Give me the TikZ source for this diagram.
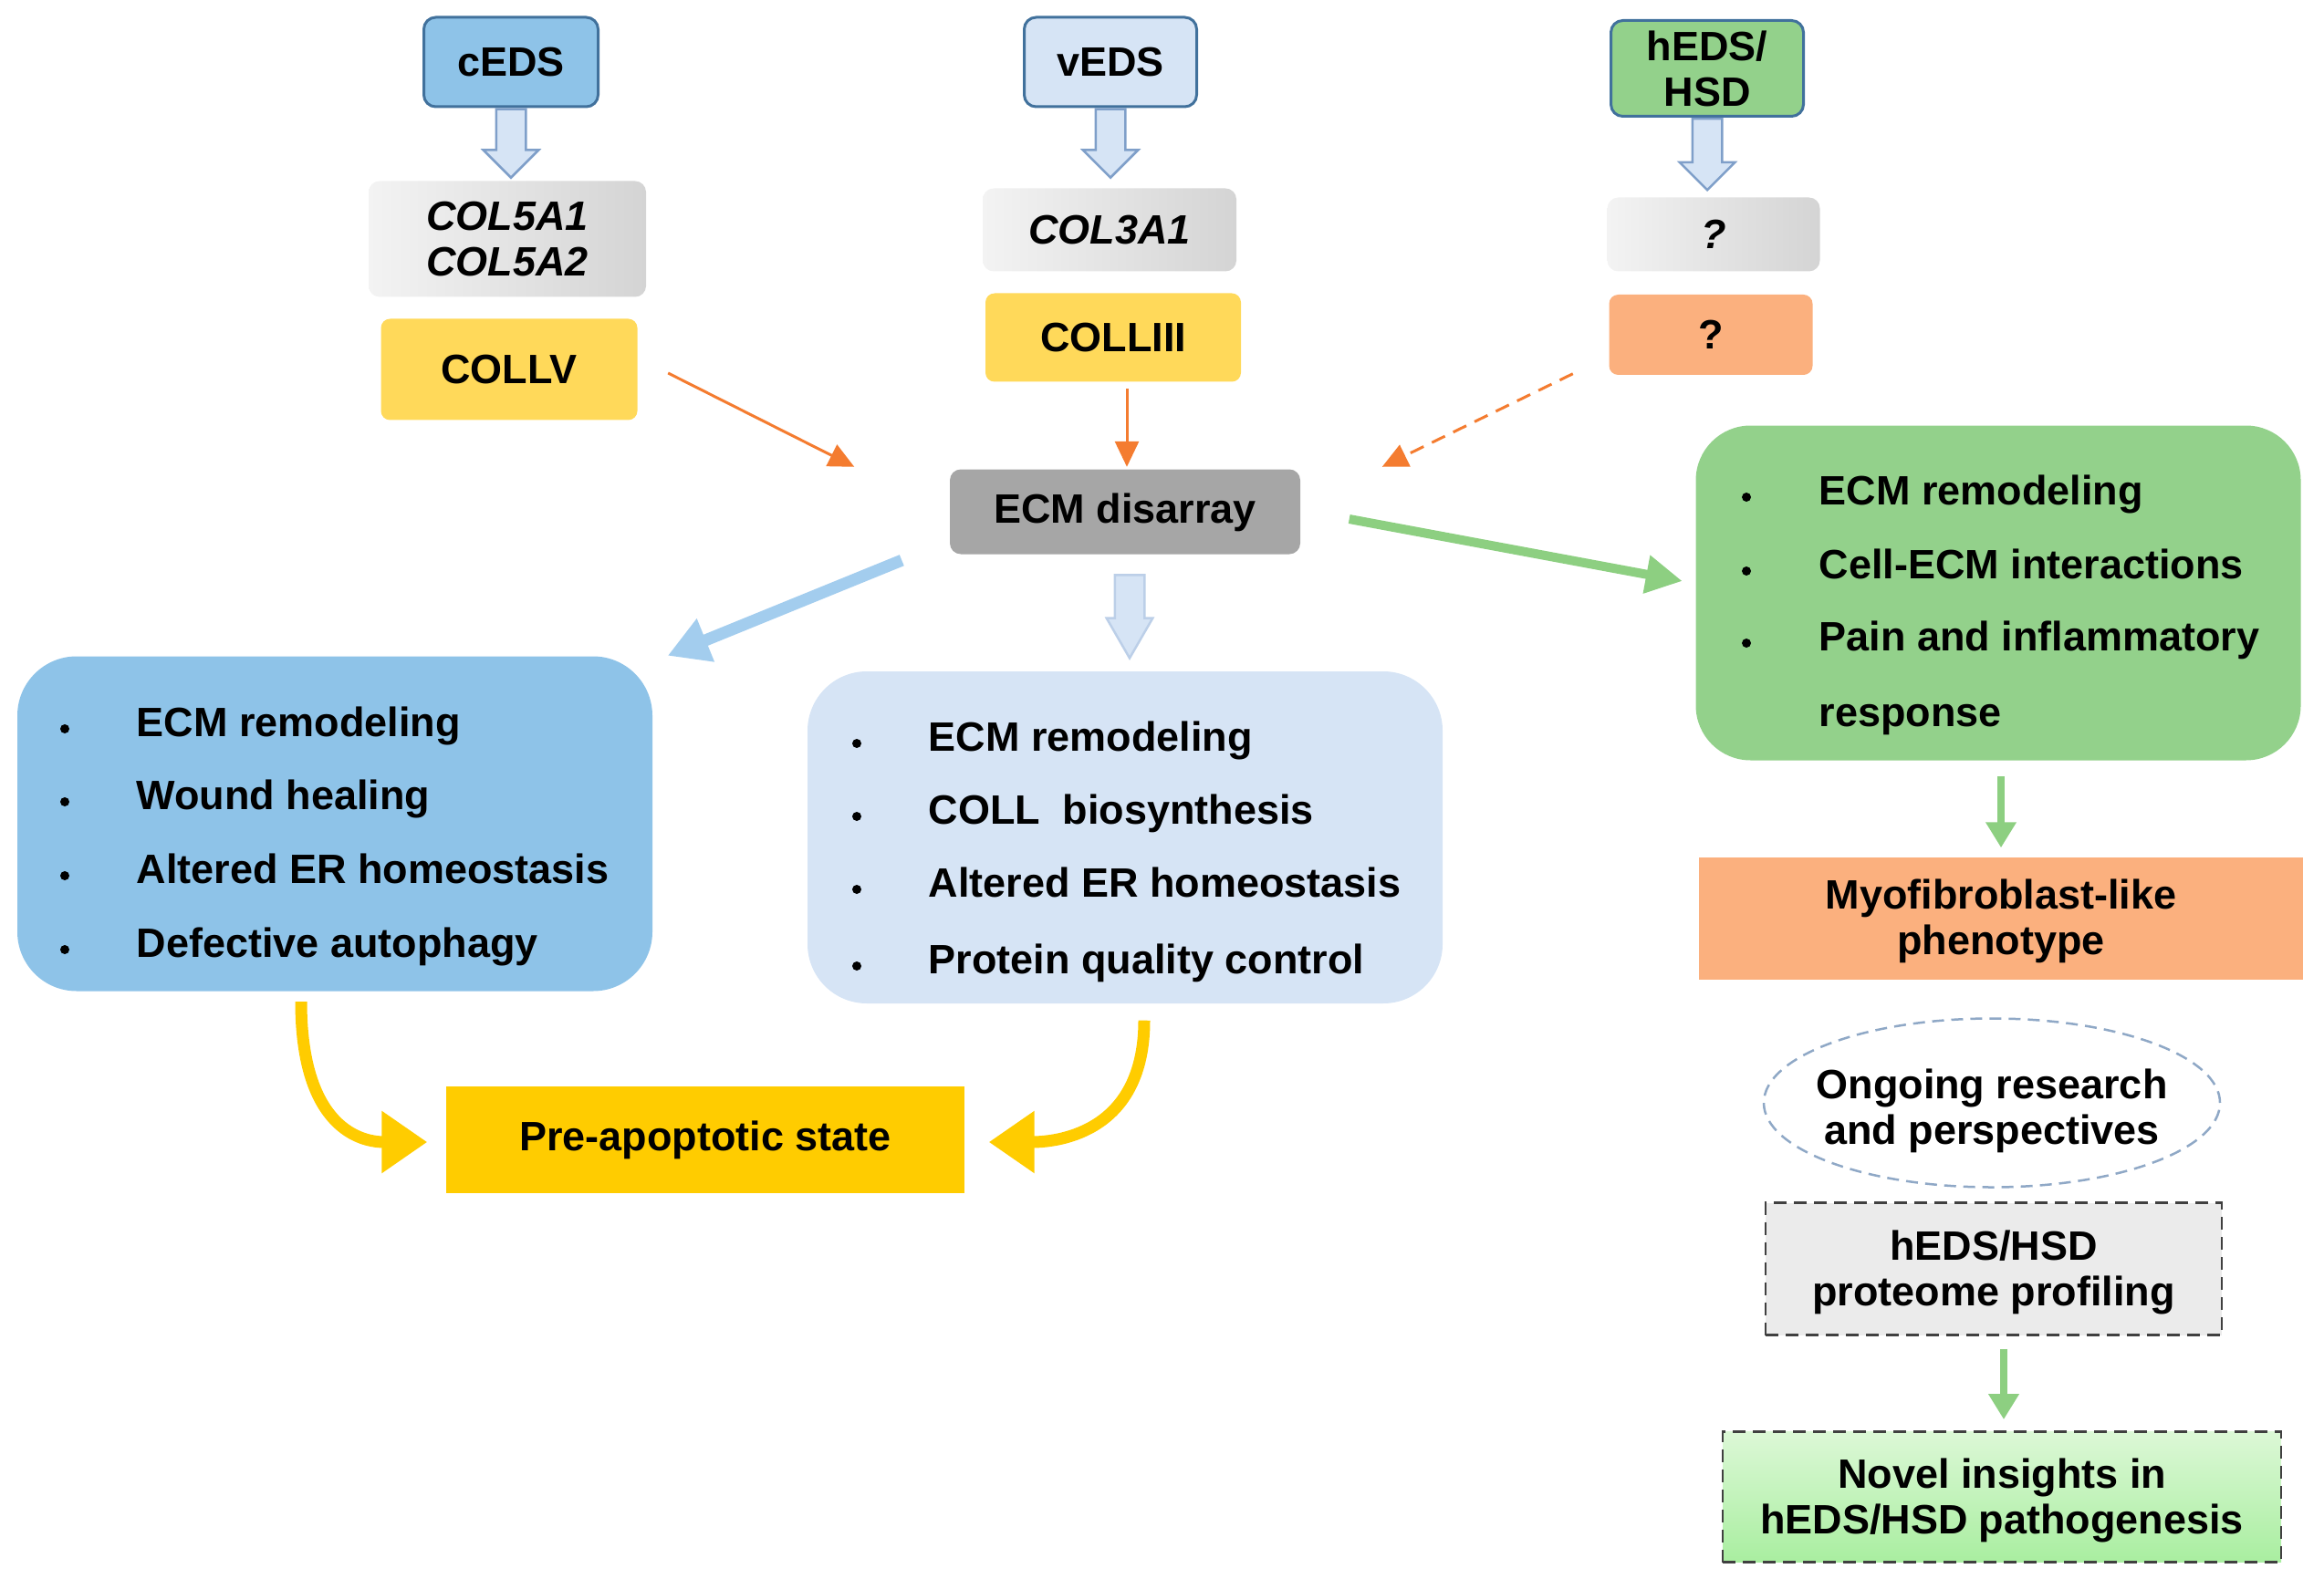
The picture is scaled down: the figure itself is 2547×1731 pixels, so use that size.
\documentclass[tikz,border=0pt]{standalone}
\usepackage{fontspec}
\setmainfont{Liberation Sans}
\usetikzlibrary{shapes.geometric,shapes.arrows,arrows.meta,calc}
\definecolor{cblue}{HTML}{8EC3E8}
\definecolor{lblue}{HTML}{D6E4F5}
\definecolor{cgreen}{HTML}{93D18B}
\definecolor{bordb}{HTML}{41719C}
\definecolor{gold}{HTML}{FFD95A}
\definecolor{salmon}{HTML}{FBB07E}
\definecolor{ecmgray}{HTML}{A6A6A6}
\definecolor{preyel}{HTML}{FFCC00}
\definecolor{orarr}{HTML}{F47C30}
\definecolor{arrblue}{HTML}{A3CDEE}
\definecolor{arrgreen}{HTML}{8DCF81}
\definecolor{ellc}{HTML}{8FA8C6}
\definecolor{barline}{HTML}{7F9FC9}
\definecolor{gl}{HTML}{F3F3F3}
\definecolor{gd}{HTML}{D4D4D4}
\definecolor{nvt}{HTML}{DCF8D6}
\definecolor{nvb}{HTML}{A9EEA0}
\definecolor{protg}{HTML}{EBEBEB}
\tikzset{
  topbox/.style={draw=bordb, line width=0.3mm, rounded corners=1.3mm},
  genebox/.style={rounded corners=1.2mm, left color=gl, right color=gd},
  yelbox/.style={fill=gold, rounded corners=1mm},
  bigbox/.style={rounded corners=6.5mm},
  capc/.style={text height=0.72em, text depth=0pt},
  item/.style={anchor=west, text height=0.72em, text depth=0pt, align=left},
  bul/.style={circle, fill=black, minimum size=1mm, inner sep=0pt},
  barrow/.style={single arrow, rotate=-90, anchor=tail, draw=barline, fill=lblue, line width=0.25mm,
     inner xsep=0pt, inner ysep=1.5mm, minimum width=0pt, single arrow head extend=1.4mm},
  oarrow/.style={draw=orarr, line width=0.3mm, -{Triangle[length=2.8mm,width=2.6mm]}},
  garrow/.style={draw=arrgreen, line width=1mm, -{Triangle[length=4mm,width=4mm]}},
  barrowline/.style={draw=arrblue, line width=1.3mm, -{Triangle[length=4.5mm,width=4.8mm]}},
  yarrow/.style={draw=preyel, line width=1.3mm, -{Triangle[length=5mm,width=6.5mm]}},
  sgarrow/.style={draw=arrgreen, line width=0.8mm, -{Triangle[length=2.8mm,width=3.2mm]}},
}
\begin{document}
\begin{tikzpicture}[x=0.1mm,y=-0.1mm,
  every node/.style={font=\fontsize{12.8}{14.2}\selectfont\bfseries, align=center, inner sep=0pt}]
\useasboundingbox (0,0) rectangle (2547,1731);

% top disease boxes
\node[topbox, fill=cblue, minimum width=19.1mm, minimum height=9.8mm] (ceds) at (560,68) {cEDS};
\node[topbox, fill=lblue, minimum width=18.9mm, minimum height=9.8mm] (veds) at (1217,68) {vEDS};
\node[topbox, fill=cgreen, minimum width=21.1mm, minimum height=10.5mm] (heds) at (1871,75) {hEDS/\\HSD};

% gene boxes
\node[genebox, minimum width=30.4mm, minimum height=12.7mm] (g1) at (556,262) {\itshape COL5A1\\\itshape COL5A2};
\node[genebox, minimum width=27.8mm, minimum height=9.1mm] (g2) at (1216,252) {\itshape COL3A1};
\node[genebox, minimum width=23.3mm, minimum height=8.1mm] (g3) at (1878,257) {\itshape ?};

% protein boxes
\node[yelbox, minimum width=28.1mm, minimum height=11.1mm] (y1) at (558,405) {COLLV};
\node[yelbox, minimum width=28.0mm, minimum height=9.7mm] (y2) at (1220,370) {COLLIII};
\node[fill=salmon, rounded corners=1mm, minimum width=22.3mm, minimum height=8.8mm] (y3) at (1875,367) {?};

% block arrows
\node[barrow, minimum height=7.5mm] (a1) at (ceds.south) {};
\node[barrow, minimum height=7.5mm] (a2) at (veds.south) {};
\node[barrow, minimum height=7.8mm] (a3) at (heds.south) {};

% ECM disarray
\node[fill=ecmgray, rounded corners=1.2mm, minimum width=38.4mm, minimum height=9.3mm, capc] (ecm) at (1233,561) {ECM disarray};

\draw[oarrow] ($(y1.east)+(33,4)$) -- ($(ecm.north west)+(-104,-2)$);
\draw[oarrow] ($(ecm.north |- y2.south)+(2,7)$) -- ($(ecm.north)+(2,-2)$);
\draw[oarrow, dash pattern=on 1.6mm off 1mm] ($(y3.south west)+(-39,-2)$) -- ($(ecm.north east)+(89,-2)$);

% big boxes
\node[bigbox, fill=cblue, minimum width=69.6mm, minimum height=36.7mm] (lbox) at (367,903) {};
\node[bigbox, fill=lblue, minimum width=69.6mm, minimum height=36.4mm] (mbox) at (1233,918) {};
\node[bigbox, fill=cgreen, rounded corners=6mm, minimum width=66.3mm, minimum height=36.7mm] (gbox) at (2190,650) {};

% arrows from ECM
\draw[garrow] ($(ecm.east)+(53,8)$) -- ($(gbox.west)+(-14,-13)$);
\draw[barrowline] ($(ecm.south west)+(-52,6)$) -- ($(lbox.north east)+(16,0)$);
\node[barrow, draw=lblue!70!barline, fill=lblue, inner ysep=1.5mm, single arrow head extend=0.9mm, single arrow tip angle=60, minimum height=9.1mm] (a4) at ($(ecm.south)+(5,21)$) {};

% left list
\node[bul] (lb1) at (71,799) {};
\node[bul] (lb2) at (71,879) {};
\node[bul] (lb3) at (71,960) {};
\node[bul] (lb4) at (71,1041) {};
\node[item] (lt1) at (149,795) {ECM remodeling};
\node[item] (lt2) at (149,875) {Wound healing};
\node[item] (lt3) at (149,956) {Altered ER homeostasis};
\node[item] (lt4) at (149,1037) {Defective autophagy};

% middle list
\node[bul] (mb1) at (939,815) {};
\node[bul] (mb2) at (939,895) {};
\node[bul] (mb3) at (939,975) {};
\node[bul] (mb4) at (939,1059) {};
\node[item] (mt1) at (1017,811) {ECM remodeling};
\node[item] (mt2) at (1017,891) {COLL\hspace{0.55em}biosynthesis};
\node[item] (mt3) at (1017,971) {Altered ER homeostasis};
\node[item] (mt4) at (1017,1055) {Protein quality control};

% green list
\node[bul] (gb1) at (1914,545) {};
\node[bul] (gb2) at (1914,626) {};
\node[bul] (gb3) at (1914,705) {};
\node[item] (gt1) at (1993,541) {ECM remodeling};
\node[item] (gt2) at (1993,622) {Cell-ECM interactions};
\node[item] (gt3) at (1993,701) {Pain and inflammatory};
\node[item] (gt4) at (1993,784) {response};

% pre-apoptotic
\node[fill=preyel, minimum width=56.8mm, minimum height=11.7mm, capc] (pre) at (773,1249) {Pre-apoptotic state};
\draw[yarrow] ($(lbox.south)+(-37,11)$) .. controls +(0,130) and +(-80,0) .. ($(pre.west)+(-20,3)$);
\draw[yarrow] ($(mbox.south)+(21,18)$) .. controls +(0,120) and +(80,0) .. ($(pre.east)+(26,3)$);

% right column
\node[fill=salmon, minimum width=66.2mm, minimum height=13.4mm, text depth=0.1em] (myo) at (2193,1007) {Myofibroblast-like\\phenotype};
\draw[sgarrow] ($(gbox.south)+(3,17)$) -- ($(myo.north)+(0,-10)$);

\node[ellipse, draw=ellc, line width=0.25mm, dash pattern=on 1.3mm off 0.8mm, minimum width=50mm, minimum height=18.5mm] (ell) at (2183,1209) {};
\node[text depth=0pt] (ellt) at ($(ell.center)+(0,4)$) {Ongoing research\\and perspectives};

\node[fill=protg, draw=black!75, line width=0.28mm, dash pattern=on 1.4mm off 0.8mm, minimum width=50mm, minimum height=14.5mm, text depth=0.05em] (prot) at (2185,1391) {hEDS/HSD\\proteome profiling};

\node[top color=nvt, bottom color=nvb, draw=black!75, line width=0.28mm, dash pattern=on 1.4mm off 0.8mm, minimum width=61.2mm, minimum height=14.3mm, text depth=0.05em] (novel) at (2194,1641) {Novel insights in\\hEDS/HSD pathogenesis};
\draw[sgarrow] ($(prot.south)+(11,14)$) -- ($(novel.north)+(2,-12)$);
\end{tikzpicture}
\end{document}
